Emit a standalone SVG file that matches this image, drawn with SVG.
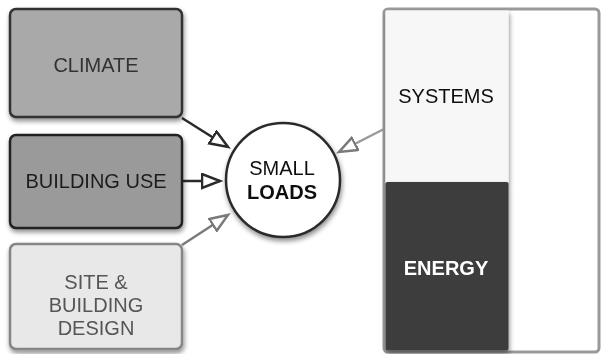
<svg xmlns="http://www.w3.org/2000/svg" width="601" height="354" viewBox="0 0 601 354">
  <style>
    text { font-family: "Liberation Sans", Arial, sans-serif; font-size: 20px; text-anchor: middle; }
    .b { font-weight: bold; }
    .box { stroke-width: 2.5; }
    .link { fill: none; stroke-width: 2.5; }
  </style>
  <defs>
    <filter id="sh" x="-20%" y="-20%" width="140%" height="140%">
      <feGaussianBlur in="SourceAlpha" stdDeviation="2.5"/>
      <feOffset dx="1" dy="3" result="b"/>
      <feComponentTransfer><feFuncA type="linear" slope="0.45"/></feComponentTransfer>
      <feMerge><feMergeNode/><feMergeNode in="SourceGraphic"/></feMerge>
    </filter>
    <marker id="ad" markerUnits="userSpaceOnUse" markerWidth="24" markerHeight="18" refX="19" refY="8" orient="auto" viewBox="0 0 24 18">
      <path d="M1,1 L19,8 L1,15 Z" fill="#fff" stroke="#2a2a2a" stroke-width="2.5" stroke-linejoin="miter"/>
    </marker>
    <marker id="ag" markerUnits="userSpaceOnUse" markerWidth="24" markerHeight="18" refX="19" refY="8" orient="auto" viewBox="0 0 24 18">
      <path d="M1,1 L19,8 L1,15 Z" fill="#fff" stroke="#7a7a7a" stroke-width="2.5" stroke-linejoin="miter"/>
    </marker>
  </defs>
  <rect width="601" height="354" fill="#ffffff"/>

  <g id="connectors">
    <line class="link" x1="182" y1="118" x2="228" y2="147" stroke="#2a2a2a" marker-end="url(#ad)"/>
    <line class="link" x1="183" y1="181" x2="220" y2="181" stroke="#2a2a2a" marker-end="url(#ad)"/>
    <line class="link" x1="182" y1="245" x2="228" y2="215" stroke="#7a7a7a" marker-end="url(#ag)"/>
    <line class="link" x1="384" y1="129" x2="339" y2="152" stroke="#9a9a9a" marker-end="url(#ag)"/>
  </g>

  <g id="climate" filter="url(#sh)">
    <rect class="box" x="10" y="9" width="172" height="108" rx="6" fill="#a9a9a9" stroke="#333"/>
    <text x="96" y="72" fill="#333">CLIMATE</text>
  </g>
  <g id="building-use" filter="url(#sh)">
    <rect class="box" x="10" y="135" width="172" height="93" rx="6" fill="#9a9a9a" stroke="#222"/>
    <text x="96" y="188" fill="#1e1e1e">BUILDING USE</text>
  </g>
  <g id="site-building-design" filter="url(#sh)">
    <rect class="box" x="10" y="244" width="172" height="105" rx="6" fill="#e8e8e8" stroke="#858585"/>
    <text x="96" y="289" fill="#555">SITE &amp;</text>
    <text x="96" y="312" fill="#555">BUILDING</text>
    <text x="96" y="335" fill="#555">DESIGN</text>
  </g>

  <g id="small-loads" filter="url(#sh)">
    <circle cx="283" cy="180" r="57" fill="#ffffff" stroke="#2a2a2a" stroke-width="2.5"/>
    <text x="282" y="175" fill="#111">SMALL</text>
    <text x="282" y="199" class="b" fill="#111">LOADS</text>
  </g>

  <g id="container">
    <rect x="384" y="9" width="215" height="343" rx="4" fill="#ffffff" stroke="#9a9a9a" stroke-width="3"/>
  </g>
  <g id="systems" filter="url(#sh)">
    <rect x="385.5" y="10.5" width="123" height="172" fill="#f7f7f7"/>
    <text x="446" y="103" fill="#111">SYSTEMS</text>
  </g>
  <g id="energy" filter="url(#sh)">
    <rect x="385.5" y="182" width="123" height="168.5" rx="2" fill="#3d3d3d"/>
    <text x="446" y="275" class="b" fill="#ffffff">ENERGY</text>
  </g>
</svg>
